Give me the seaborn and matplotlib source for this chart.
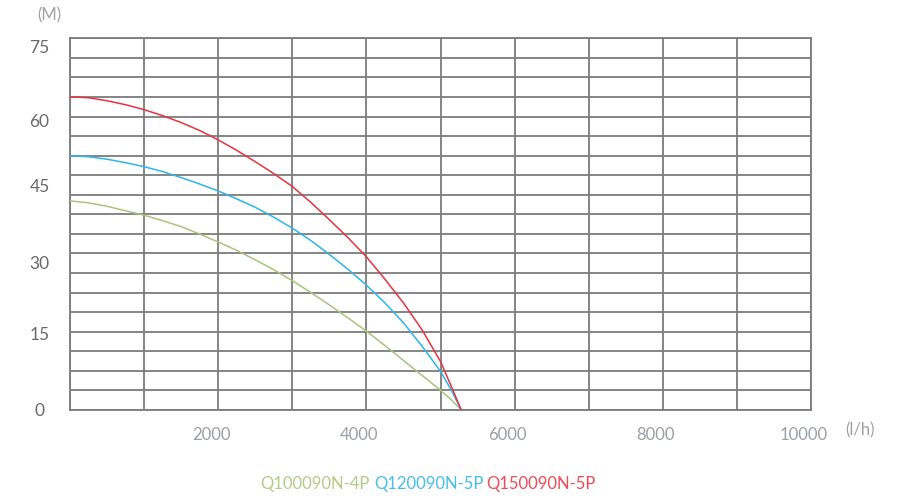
import matplotlib
import matplotlib.pyplot as plt
import matplotlib.transforms as mtransforms
import numpy as np
import pandas as pd
import seaborn as sns

matplotlib.use("Agg")

# --- DATA (flow l/h vs head M) ---
FLOW = [0, 250, 500, 750, 1000, 1250, 1500, 1750, 2000, 2250, 2500, 2750,
        3000, 3250, 3500, 3750, 4000, 4250, 4500, 4750, 5000, 5150, 5280]

HEAD_RED = [63.2, 63.0, 62.4, 61.6, 60.6, 59.4, 58.0, 56.4, 54.5, 52.4, 50.1, 47.7,
            45.1, 41.9, 38.4, 34.8, 30.9, 26.4, 21.6, 16.2, 9.8, 4.6, 0.0]
HEAD_BLUE = [51.3, 51.1, 50.6, 49.9, 49.1, 48.1, 46.9, 45.6, 44.2, 42.6, 40.9, 38.9,
             36.7, 34.2, 31.4, 28.4, 25.2, 21.6, 17.6, 12.9, 7.8, 3.9, 0.0]
HEAD_GREEN = [42.2, 41.8, 41.1, 40.2, 39.3, 38.2, 37.0, 35.5, 33.9, 32.2, 30.3, 28.3,
              26.1, 23.7, 21.2, 18.6, 15.9, 13.0, 10.0, 7.0, 4.0, 2.0, 0.0]

MODELS = ["Q100090N-4P", "Q120090N-5P", "Q150090N-5P"]
LINE_COLORS = ["#a8c47c", "#2bb5ea", "#e8323f"]
TEXT_COLORS = ["#b3cb86", "#45bdf0", "#f04a55"]

X_TICKS = [2000, 4000, 6000, 8000, 10000]
Y_LABELS = ["0", "15", "30", "45", "60", "75"]
# where the y labels sit in the picture (not quite on the 0..75 scale)
Y_LABEL_POS = [0.2, 15.5, 29.7, 45.2, 58.5, 73.3]

GRID = "#7c7c7c"

df = pd.concat([
    pd.DataFrame({"flow": FLOW, "head": HEAD_GREEN, "model": MODELS[0]}),
    pd.DataFrame({"flow": FLOW, "head": HEAD_BLUE, "model": MODELS[1]}),
    pd.DataFrame({"flow": FLOW, "head": HEAD_RED, "model": MODELS[2]}),
])

sns.set_theme(style="white")
plt.rcParams["font.family"] = ["Lato", "DejaVu Sans"]

fig = plt.figure(figsize=(9, 5), dpi=100)
ax = fig.add_axes([70 / 900, 1 - 410 / 500, (811 - 70) / 900, (410 - 38.3) / 500])

sns.lineplot(data=df, x="flow", y="head", hue="model", palette=LINE_COLORS,
             sort=False, estimator=None, linewidth=1.1, legend=False, ax=ax, zorder=3)

ax.set_xlim(0, 10000)
ax.set_ylim(0, 75)

# grid: 10 columns, 19 rows (kept on minor ticks so labels can sit elsewhere)
ax.xaxis.remove_overlapping_locs = False
ax.yaxis.remove_overlapping_locs = False
ax.set_xticks(np.arange(0, 10001, 1000), minor=True)
ax.set_yticks(np.linspace(0, 75, 20), minor=True)
ax.grid(which="minor", color=GRID, linewidth=1.3)
ax.grid(which="major", visible=False)
ax.tick_params(which="both", length=0)

ax.set_xticks(X_TICKS)
ax.set_xticklabels([str(v) for v in X_TICKS], color="#9a9fa6", fontsize=12)
ax.set_yticks(Y_LABEL_POS)
ax.set_yticklabels(Y_LABELS, color="#6a6a6a", fontsize=12.5, ha="center")
ax.tick_params(axis="y", pad=22)
ax.tick_params(axis="x", pad=12)

shift = mtransforms.ScaledTranslation(-7 / 100, 0, fig.dpi_scale_trans)
for lab in ax.get_xticklabels():
    lab.set_transform(lab.get_transform() + shift)

for s in ax.spines.values():
    s.set_color(GRID)
    s.set_linewidth(1.3)
ax.set_xlabel("")
ax.set_ylabel("")

fig.text(49 / 900, 1 - 15 / 500, "(M)", color="#a0a0a0", fontsize=12, ha="center", va="center")
fig.text(860 / 900, 1 - 430 / 500, "(l/h)", color="#a0a0a0", fontsize=12, ha="center", va="center")

# model names under the chart
legend_x = [315, 429, 541]
for name, col, xp in zip(MODELS, TEXT_COLORS, legend_x):
    fig.text(xp / 900, 1 - 484 / 500, name, color=col, fontsize=12, ha="center", va="center")

fig.savefig("out.png", dpi=100, facecolor="white")
